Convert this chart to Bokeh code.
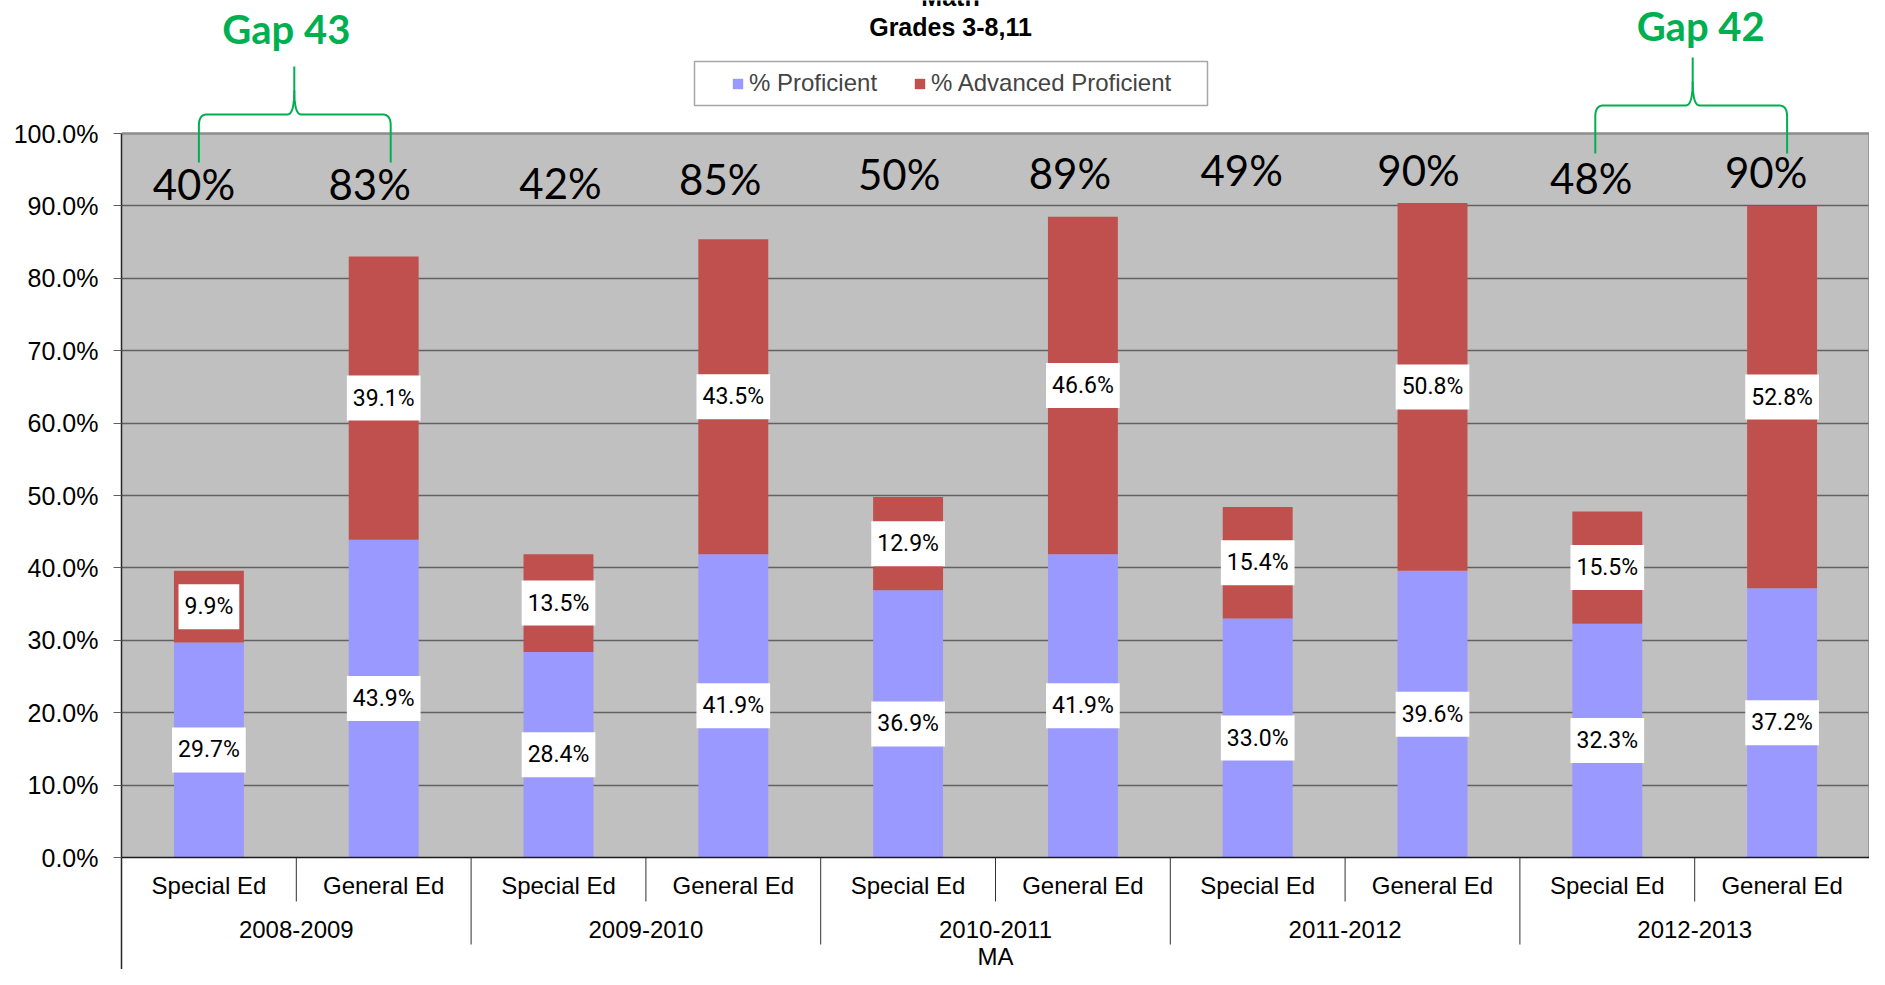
from bokeh.plotting import figure
from bokeh.models import (FactorRange, Range1d, FixedTicker, PrintfTickFormatter,
                          BoxAnnotation, Legend, LegendItem, ColumnDataSource)
from bokeh.core.properties import value
from bokeh.embed import file_html
from bokeh.resources import INLINE

# ---------------- data ----------------
region = "MA"
years = ["2008-2009", "2009-2010", "2010-2011", "2011-2012", "2012-2013"]
groups = ["Special Ed", "General Ed"]
proficient = [29.7, 43.9, 28.4, 41.9, 36.9, 41.9, 33.0, 39.6, 32.3, 37.2]
advanced = [9.9, 39.1, 13.5, 43.5, 12.9, 46.6, 15.4, 50.8, 15.5, 52.8]
total_labels = ["40%", "83%", "42%", "85%", "50%", "89%", "49%", "90%", "48%", "90%"]
gap_pairs = [(0, 1), (8, 9)]
gap_labels = ["Gap 43", "Gap 42"]
series_names = ["% Proficient", "% Advanced Proficient"]
title_lines = ["Math", "Grades 3-8,11"]
y_ticks = [0, 10, 20, 30, 40, 50, 60, 70, 80, 90, 100]

# ---------------- layout ----------------
W, H = 1869, 969
LEFT = 121
FRAME_W = W - LEFT
N = len(years) * len(groups)
PX_X = FRAME_W / N          # pixels per category
Y0 = 857                    # canvas y of 0 %
PPP = 7.24                  # pixels per percent
YMAX = Y0 / PPP
YMIN = -(H - Y0) / PPP


def ypx(cy):
    return (Y0 - cy) / PPP


def xpx(cx):
    return (cx - LEFT) / PX_X


# hand-placed annotation layout
top_label_y = [92.96, 93.09, 93.23, 93.78, 94.34, 94.48, 94.89, 94.89, 93.92, 94.75]
top_label_dx = [-15, -14, 2, -13, -9, -13, -16, -14, -16, -16]
gap_brace_cy = [114, 105]                # canvas y of brace bar
gap_leg_dx = [(-10, 7), (-12, 5)]        # px offsets of legs from bar centres
gap_stem_dx = [-2, -2]
gap_text_dx = [-10, 6]

BLUE = "#9999FF"
RED = "#C0504D"
GREY = "#C0C0C0"
GREEN = "#00B050"

factors = [(region, y, g) for y in years for g in groups]
total = [a + b for a, b in zip(proficient, advanced)]

src = ColumnDataSource(dict(
    x=factors,
    prof=proficient,
    adv=advanced,
    total=total,
    mid1=[v / 2 for v in proficient],
    mid2=[a + b / 2 for a, b in zip(proficient, advanced)],
    prof_lbl=["%.1f%%" % v for v in proficient],
    adv_lbl=["%.1f%%" % v for v in advanced],
))

x_range = FactorRange(factors=factors, range_padding=0, factor_padding=0,
                      subgroup_padding=0, group_padding=0)

p = figure(width=W, height=H, x_range=x_range, y_range=Range1d(YMIN, YMAX),
           x_axis_location=None, toolbar_location=None, output_backend="svg",
           min_border_left=LEFT, min_border_right=0, min_border_top=0,
           min_border_bottom=0, title=None)
p.outline_line_color = None
p.background_fill_color = "white"
p.border_fill_color = "white"

# grey plot area, drawn beneath the grid lines
grey_area = BoxAnnotation(bottom=0, top=100, fill_color=GREY, fill_alpha=1,
                          line_color=None, level="underlay")
p.center = [grey_area] + list(p.center)

# y axis
p.yaxis.ticker = FixedTicker(ticks=y_ticks)
p.yaxis.formatter = PrintfTickFormatter(format="%.1f%%")
p.yaxis.bounds = (YMIN, 100)
p.yaxis.axis_line_color = "#262626"
p.yaxis.axis_line_width = 1.5
p.yaxis.major_tick_out = 8
p.yaxis.major_tick_in = 0
p.yaxis.major_tick_line_color = "#606060"
p.yaxis.minor_tick_line_color = None
p.yaxis.major_label_text_font = "Liberation Sans"
p.yaxis.major_label_text_font_size = "25px"
p.yaxis.major_label_text_color = "black"
p.yaxis.major_label_standoff = 15

p.xgrid.visible = False
p.ygrid.ticker = FixedTicker(ticks=y_ticks[1:-1])
p.ygrid.grid_line_color = "#626262"
p.ygrid.grid_line_width = 1.3

# plot border (top/right)
p.segment(x0=[0, N], y0=[100, 0], x1=[N, N], y1=[100, 100],
          line_color="#8c8c8c", line_width=2.5)

# bars
r1 = p.vbar(x="x", bottom=0, top="prof", width=0.4, source=src,
            fill_color=BLUE, line_color=None)
r2 = p.vbar(x="x", bottom="prof", top="total", width=0.4, source=src,
            fill_color=RED, line_color=None)

# data labels
for ycol, tcol in (("mid1", "prof_lbl"), ("mid2", "adv_lbl")):
    p.text(x="x", y=ycol, text=tcol, source=src, text_align="center",
           text_baseline="middle", text_font=value("Roboto"),
           text_font_size="23px", text_color="black",
           background_fill_color="white", padding=(6, 9))

# top total labels
p.text(x=factors, y=top_label_y, text=total_labels, x_offset=top_label_dx,
       text_align="center", text_baseline="middle", text_font=value("Lato"),
       text_font_size="42px", text_color="black")

# category axis table
p.segment(x0=[0], y0=[0], x1=[N], y1=[0], line_color="#1a1a1a", line_width=1.5)
sub_b = [2 * i + 1 for i in range(len(years))]
year_b = [2 * i for i in range(1, len(years))]
p.segment(x0=sub_b, y0=[0] * len(sub_b), x1=sub_b, y1=[ypx(901)] * len(sub_b),
          line_color="#303030", line_width=1)
p.segment(x0=year_b, y0=[0] * len(year_b), x1=year_b, y1=[ypx(944)] * len(year_b),
          line_color="#303030", line_width=1)
p.text(x=factors, y=[ypx(885)] * N, text=[f[2] for f in factors],
       text_align="center", text_baseline="middle",
       text_font=value("Liberation Sans"), text_font_size="24px", text_color="black")
p.text(x=[(region, y) for y in years], y=[ypx(928.5)] * len(years), text=years,
       text_align="center", text_baseline="middle",
       text_font=value("Liberation Sans"), text_font_size="24px", text_color="black")
p.text(x=[region], y=[ypx(956)], text=[region],
       text_align="center", text_baseline="middle",
       text_font=value("Liberation Sans"), text_font_size="24px", text_color="black")

# title
p.text(x=[xpx(950)] * 2, y=[ypx(-4), ypx(26)], text=title_lines,
       text_align="center", text_baseline="middle",
       text_font=value("Liberation Sans"), text_font_style="bold",
       text_font_size="25px", text_color="black")

# legend box + legend
p.quad(left=[xpx(694)], right=[xpx(1207)], top=[ypx(61)], bottom=[ypx(105)],
       fill_color="white", line_color="#a6a6a6", line_width=1.5)
legend = Legend(items=[LegendItem(label=series_names[0], renderers=[r1]),
                       LegendItem(label=series_names[1], renderers=[r2])],
                orientation="horizontal", location=(610, H - 83 - 14), padding=0,
                margin=0, spacing=36, label_standoff=5, glyph_width=13,
                glyph_height=13, label_text_font="Liberation Sans",
                label_text_font_size="24px", border_line_color=None,
                background_fill_alpha=0)
p.add_layout(legend)


# gap braces
def qbez(p0, c, p1, n=10):
    pts = []
    for k in range(1, n + 1):
        t = k / n
        x = (1 - t) ** 2 * p0[0] + 2 * (1 - t) * t * c[0] + t ** 2 * p1[0]
        y = (1 - t) ** 2 * p0[1] + 2 * (1 - t) * t * c[1] + t ** 2 * p1[1]
        pts.append((x, y))
    return pts


ux = 1 / PX_X
uy = 1 / PPP
bxs, bys = [], []
gx, gy = [], []
for k, (i, j) in enumerate(gap_pairs):
    xl = i + 0.5 + gap_leg_dx[k][0] * ux
    xr = j + 0.5 + gap_leg_dx[k][1] * ux
    xs = (i + j + 1) / 2 + gap_stem_dx[k] * ux
    yh = ypx(gap_brace_cy[k])
    left = [(xl, yh - 48 * uy), (xl, yh - 11 * uy)]
    left += qbez((xl, yh - 11 * uy), (xl, yh), (xl + 8 * ux, yh))
    left += [(xs - 7 * ux, yh)]
    left += qbez((xs - 7 * ux, yh), (xs, yh), (xs, yh + 24 * uy))
    left += [(xs, yh + 48 * uy)]
    right = [(xs, yh + 24 * uy)]
    right += qbez((xs, yh + 24 * uy), (xs, yh), (xs + 7 * ux, yh))
    right += [(xr - 8 * ux, yh)]
    right += qbez((xr - 8 * ux, yh), (xr, yh), (xr, yh - 11 * uy))
    right += [(xr, yh - 48 * uy)]
    for path in (left, right):
        bxs.append([pt[0] for pt in path])
        bys.append([pt[1] for pt in path])
    gx.append((i + j + 1) / 2 + gap_text_dx[k] * ux)
    gy.append(min(yh + 85.5 * uy, ypx(25)))

p.multi_line(xs=bxs, ys=bys, line_color=GREEN, line_width=2)
p.text(x=gx, y=gy, text=gap_labels, text_align="center", text_baseline="middle",
       text_font=value("Lato"), text_font_style="bold", text_font_size="40px",
       text_color=GREEN)

open("out.html", "w").write(file_html(p, INLINE))
